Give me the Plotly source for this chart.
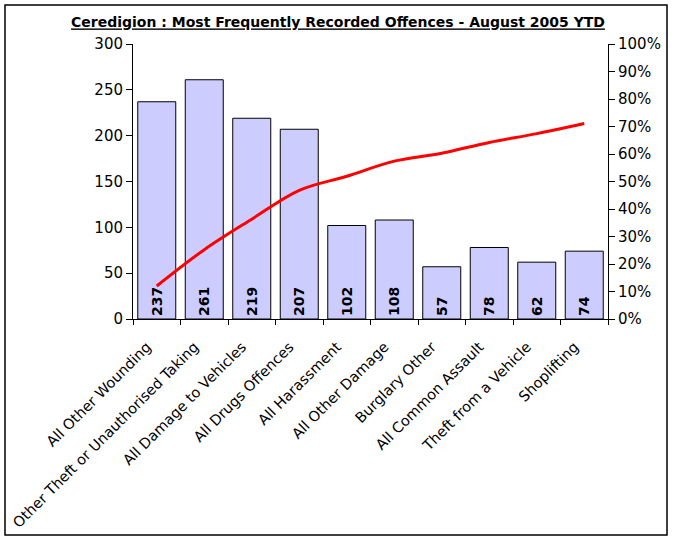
import plotly.graph_objects as go

# offence categories and counts (Aug 2005 YTD)
offences = [
    "All Other Wounding",
    "Other Theft or Unauthorised Taking",
    "All Damage to Vehicles",
    "All Drugs Offences",
    "All Harassment",
    "All Other Damage",
    "Burglary Other",
    "All Common Assault",
    "Theft from a Vehicle",
    "Shoplifting",
]
counts = [237, 261, 219, 207, 102, 108, 57, 78, 62, 74]
# cumulative share of all recorded offences
cumulative_pct = [0.12, 0.252, 0.363, 0.468, 0.519, 0.574, 0.603, 0.642, 0.674, 0.711]

FONT = "DejaVu Sans"

fig = go.Figure()

fig.add_trace(go.Bar(
    x=offences,
    y=counts,
    text=[str(c) for c in counts],
    textposition="inside",
    insidetextanchor="start",
    textangle=-90,
    textfont=dict(family=FONT, size=14, color="black", weight="bold"),
    marker=dict(color="#CCCCFF", line=dict(color="black", width=1)),
    showlegend=False,
))

fig.add_trace(go.Scatter(
    x=offences,
    y=cumulative_pct,
    yaxis="y2",
    mode="lines",
    line=dict(color="#FF0000", width=3, shape="spline"),
    showlegend=False,
))

fig.update_layout(
    width=676,
    height=537,
    margin=dict(l=133, r=68, t=44, b=218),
    paper_bgcolor="white",
    plot_bgcolor="white",
    bargap=0.2,
    font=dict(family=FONT, size=14, color="black"),
    title=dict(
        text="<u><b>Ceredigion : Most Frequently Recorded Offences - August 2005 YTD</b></u>",
        x=0.5, xanchor="center", y=0.958, yanchor="middle",
        font=dict(family=FONT, size=14, color="black"),
    ),
    xaxis=dict(
        tickangle=-45,
        tickfont=dict(family=FONT, size=14.5),
        tickmode="array",
        tickvals=offences,
        ticktext=[o + "\u00a0\u00a0\u00a0" for o in offences],
        ticks="outside", ticklen=5, tickcolor="black",
        tickson="boundaries",
        ticklabelstandoff=3,
        automargin=False,
        showline=True, linecolor="black", linewidth=1,
        showgrid=False,
    ),
    yaxis=dict(
        range=[0, 300], dtick=50,
        ticks="outside", ticklen=6, tickcolor="black",
        showline=True, linecolor="black", linewidth=1,
        showgrid=False, zeroline=False, automargin=False,
        tickfont=dict(family=FONT, size=15),
    ),
    yaxis2=dict(
        overlaying="y", side="right",
        range=[0, 1], dtick=0.1, tickformat=".0%",
        ticks="outside", ticklen=6, tickcolor="black",
        showline=True, linecolor="black", linewidth=1,
        showgrid=False, zeroline=False, automargin=False,
        tickfont=dict(family=FONT, size=15),
    ),
)

# chart frame
fig.add_shape(
    type="rect", xref="paper", yref="paper",
    x0=(5 - 133) / 475, x1=(667 - 133) / 475,
    y0=(319 - 535) / 275, y1=(319 - 5) / 275,
    line=dict(color="black", width=1.5),
    layer="below",
)

fig.write_html(
    "out.html",
    config={"displayModeBar": False},
    post_script="document.body.style.margin='0';",
)
